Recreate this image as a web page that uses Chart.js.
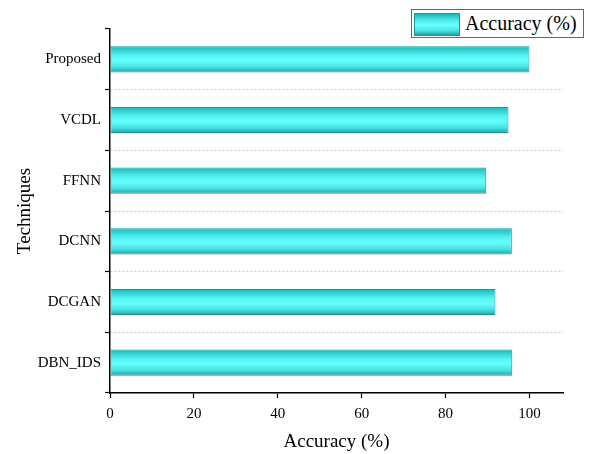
<!DOCTYPE html>
<html>
<head>
<meta charset="utf-8">
<script src="https://cdn.jsdelivr.net/npm/chart.js@4/dist/chart.umd.min.js"></script>
<style>
  html, body { margin: 0; padding: 0; background: #fff; }
  #wrap { position: relative; width: 590px; height: 454px; }
  #legend {
    position: absolute; left: 411px; top: 9px; width: 171px; height: 27px;
    border: 1px solid #666; background: #fff;
    font-family: "Liberation Serif", "Times New Roman", serif; font-size: 20px; color: #000;
  }
  #legend .sw {
    position: absolute; left: 2px; top: 3px; width: 44px; height: 21px;
    border: 1px solid #169c9c;
    background: linear-gradient(to bottom, #1fb4b4 0%, #55f2f2 35%, #66ffff 55%, #48e0e0 80%, #17a6a6 100%);
  }
  #legend .lb { position: absolute; left: 53px; top: 1px; line-height: 24px; white-space: nowrap; }
</style>
</head>
<body>
<div id="wrap">
  <canvas id="myChart" width="590" height="454"></canvas>
  <div id="legend"><div class="sw"></div><div class="lb">Accuracy (%)</div></div>
</div>
<script>
// techniques, top to bottom
const tecnicas = ['Proposed', 'VCDL', 'FFNN', 'DCNN', 'DCGAN', 'DBN_IDS'];
// accuracy values
const precision = [100, 95.0, 89.7, 95.8, 91.9, 95.9];
const xTicks = [0, 20, 40, 60, 80, 100];

const serif = '"Liberation Serif", "Times New Roman", serif';

// vertical gradient per bar, gives the tube look
function barFill(ctx) {
    const chart = ctx.chart;
    const ys = chart.scales.y;
    if (!ys || ctx.dataIndex === undefined) return '#55f2f2';
    const c = ys.getPixelForValue(ctx.dataIndex);
    const half = (ys.bottom - ys.top) / tecnicas.length * 0.43 / 2;
    if (!isFinite(c) || !isFinite(half)) return '#55f2f2';
    const g = chart.ctx.createLinearGradient(0, c - half, 0, c + half);
    g.addColorStop(0, '#1fb4b4');
    g.addColorStop(0.35, '#55f2f2');
    g.addColorStop(0.55, '#66ffff');
    g.addColorStop(0.8, '#48e0e0');
    g.addColorStop(1, '#17a6a6');
    return g;
}

const ctx = document.getElementById('myChart').getContext('2d');
const myChart = new Chart(ctx, {
    type: 'bar',
    data: {
        labels: tecnicas,
        datasets: [{
            label: 'Accuracy (%)',
            data: precision,
            backgroundColor: barFill,
            borderColor: '#169c9c',
            borderWidth: 1,
            borderSkipped: false,
            categoryPercentage: 1,
            barPercentage: 0.43
        }]
    },
    options: {
        indexAxis: 'y',
        responsive: false,
        animation: false,
        layout: { padding: { top: 29, right: 27, left: 0, bottom: 0 } },
        plugins: {
            legend: { display: false },
            tooltip: { enabled: false }
        },
        scales: {
            x: {
                type: 'linear',
                min: 0,
                max: 108,
                afterBuildTicks: function(scale) {
                    scale.ticks = xTicks.map(v => ({ value: v }));
                },
                afterFit: function(scale) { scale.height = 61; },
                grid: { drawOnChartArea: false, drawTicks: true, tickLength: 5, tickColor: '#000', tickWidth: 1.2 },
                border: { display: true, color: '#000', width: 1.5 },
                ticks: { color: '#000', padding: 7, font: { family: serif, size: 15 } },
                title: {
                    display: true, text: 'Accuracy (%)', color: '#000',
                    font: { family: serif, size: 19 }, padding: { top: 0, bottom: 1 }
                }
            },
            y: {
                type: 'category',
                offset: true,
                afterFit: function(scale) { scale.width = 110; },
                grid: {
                    offset: true,
                    color: function(c) { return c.index === 0 ? 'rgba(0,0,0,0)' : '#cccccc'; },
                    lineWidth: 1,
                    drawTicks: true,
                    tickLength: 5,
                    tickColor: '#000',
                    tickWidth: 1.2,
                    tickBorderDash: []
                },
                border: { display: true, color: '#000', width: 1.5, dash: [2, 2] },
                ticks: { color: '#000', padding: 4, font: { family: serif, size: 15 } },
                title: {
                    display: true, text: 'Techniques', color: '#000',
                    font: { family: serif, size: 19 }, padding: { top: 14, bottom: 0 }
                }
            }
        }
    }
});
</script>
</body>
</html>
